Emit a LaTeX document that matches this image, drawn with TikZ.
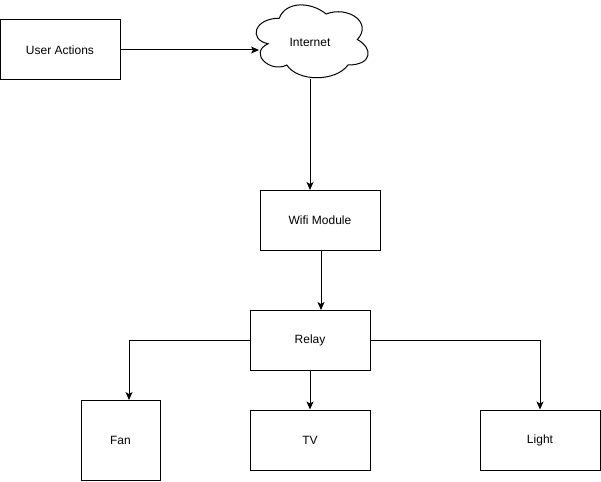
\documentclass[tikz,border=0pt]{standalone}
\usepackage{fontspec}
\setmainfont{Liberation Sans}
\usetikzlibrary{arrows.meta}
\begin{document}
\begin{tikzpicture}[x=1pt,y=-1pt,
  every node/.style={font=\fontsize{12}{14}\selectfont},
  box/.style={draw, line width=1pt, minimum width=#1, inner sep=0pt},
  conn/.style={draw, line width=1pt, -{Stealth[length=8pt,width=7pt,inset=2pt]}}]
\useasboundingbox (0,0) rectangle (601,481);
% boxes
\node[box=120pt, minimum height=60pt] (ua) at (60,50) {User Actions};
\node[box=120pt, minimum height=60pt] (wifi) at (320,220) {Wifi Module};
\node[box=120pt, minimum height=60pt] (relay) at (310,340) {Relay};
\node[box=79pt, minimum height=80pt] (fan) at (120.5,440) {Fan};
\node[box=120pt, minimum height=60pt] (tv) at (310,440) {TV};
\node[box=120pt, minimum height=60pt] (light) at (540,440) {Light};
% cloud
\begin{scope}[shift={(248,-3)}, xscale=125, yscale=85]
\draw[line width=1pt]
  (0.25,0.25) .. controls (0.05,0.25) and (0,0.5) .. (0.16,0.55)
  .. controls (0,0.66) and (0.18,0.9) .. (0.31,0.8)
  .. controls (0.4,1) and (0.7,1) .. (0.8,0.8)
  .. controls (1,0.8) and (1,0.6) .. (0.875,0.5)
  .. controls (1,0.3) and (0.8,0.1) .. (0.625,0.2)
  .. controls (0.5,0.05) and (0.3,0.05) .. (0.25,0.25) -- cycle;
\end{scope}
\node (inet) at (310,42) {Internet};
\coordinate (inetL) at (259,50);
\coordinate (inetB) at (310,79);
\coordinate (wifiIn) at (310,190);
\coordinate (wifiOut) at (321,250);
\coordinate (relayIn) at (321,310);
\coordinate (fanIn) at (129,400);
% connectors
\draw[conn] (ua.east) -- (inetL);
\draw[conn] (inetB) -- (wifiIn);
\draw[conn] (wifiOut) -- (relayIn);
\draw[conn] (relay.west) -| (fanIn);
\draw[conn] (relay.south) -- (tv.north);
\draw[conn] (relay.east) -| (light.north);
\end{tikzpicture}
\end{document}
